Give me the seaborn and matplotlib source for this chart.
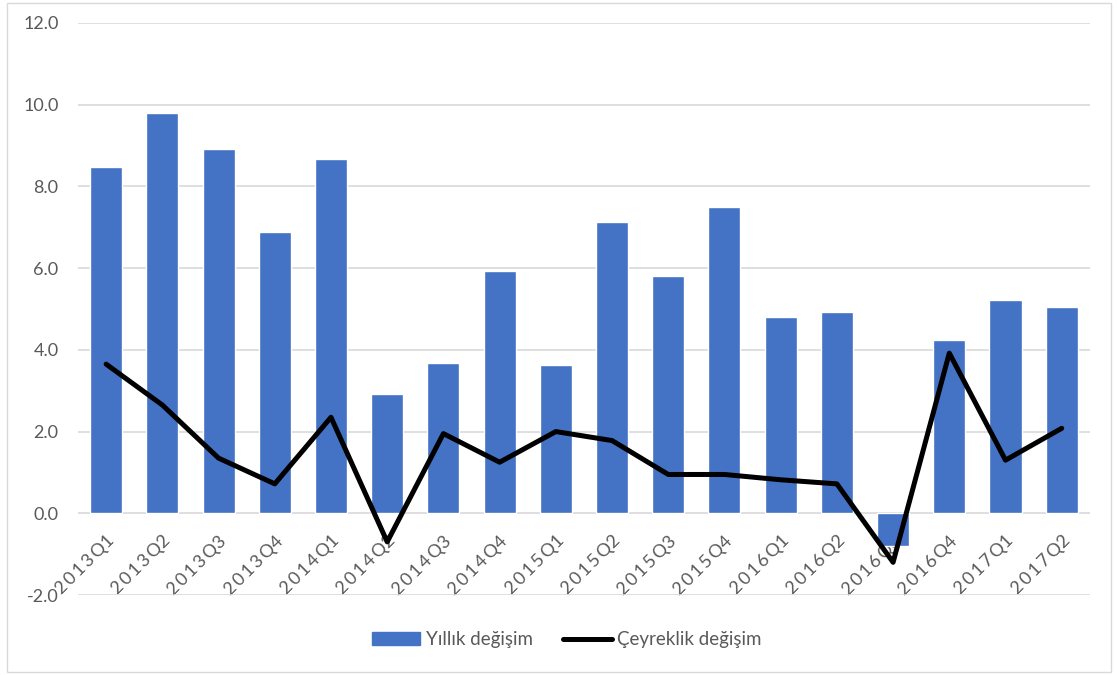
import pandas as pd
import seaborn as sns
import matplotlib.pyplot as plt
from matplotlib.patches import Rectangle
from matplotlib.lines import Line2D

quarters = [
    "2013Q1", "2013Q2", "2013Q3", "2013Q4",
    "2014Q1", "2014Q2", "2014Q3", "2014Q4",
    "2015Q1", "2015Q2", "2015Q3", "2015Q4",
    "2016Q1", "2016Q2", "2016Q3", "2016Q4",
    "2017Q1", "2017Q2",
]
yillik = [8.48, 9.79, 8.92, 6.88, 8.67, 2.92, 3.67, 5.92, 3.62,
          7.14, 5.80, 7.49, 4.80, 4.92, -0.80, 4.23, 5.23, 5.06]
ceyreklik = [3.65, 2.65, 1.35, 0.72, 2.35, -0.70, 1.95, 1.25, 2.00,
             1.78, 0.95, 0.95, 0.82, 0.72, -1.20, 3.92, 1.30, 2.08]
yticks = [-2.0, 0.0, 2.0, 4.0, 6.0, 8.0, 10.0, 12.0]

df = pd.DataFrame({"Ceyrek": quarters, "Yillik": yillik, "Ceyreklik": ceyreklik})

sns.set_style("white")
plt.rcParams["font.family"] = ["Lato", "DejaVu Sans"]

text_color = "#595959"
bar_color = "#4472C4"

fig = plt.figure(figsize=(11.18, 6.75), dpi=100)
ax = fig.add_axes([0.0698, 0.1185, 0.905, 0.8475])

sns.barplot(data=df, x="Ceyrek", y="Yillik", color=bar_color,
            width=0.57, saturation=1, ax=ax, zorder=2)
sns.lineplot(data=df, x="Ceyrek", y="Ceyreklik", color="black",
             linewidth=3.6, ax=ax, zorder=3, sort=False)

ax.set_ylim(-2, 12)
ax.set_xlim(-0.5, len(quarters) - 0.5)
ax.set_yticks(yticks)
ax.set_yticklabels([f"{v:.1f}" for v in yticks], color=text_color, fontsize=13)
ax.yaxis.grid(True, color="#d9d9d9", linewidth=1.2, zorder=0)
ax.set_axisbelow(True)
ax.set_xlabel("")
ax.set_ylabel("")
ax.tick_params(axis="both", length=0)
ax.tick_params(axis="y", pad=14)

# x labels hang from the zero line, spaced out like the original
ax.spines["bottom"].set_position(("data", 0))
for s in ["top", "right", "left", "bottom"]:
    ax.spines[s].set_visible(False)
ax.set_xticks(range(len(quarters)))
spaced = ["\u2009".join(q[:4]) + "\u2009" + q[4:] for q in quarters]
ax.set_xticklabels(spaced, rotation=45, ha="right", rotation_mode="anchor",
                   color=text_color, fontsize=13)
ax.tick_params(axis="x", pad=14)

handles = [
    Rectangle((0, 0), 1, 1, color=bar_color),
    Line2D([0], [0], color="black", linewidth=3.6),
]
leg = fig.legend(handles, ["Yıllık değişim", "Çeyreklik değişim"],
                 loc="center", bbox_to_anchor=(0.507, 0.052), ncol=2,
                 frameon=False, fontsize=13.5, handlelength=2.6,
                 columnspacing=1.6, handletextpad=0.3)
for t in leg.get_texts():
    t.set_color(text_color)

fig.patches.append(Rectangle((0.006, 0.005), 0.988, 0.99, transform=fig.transFigure,
                             fill=False, edgecolor="#d9d9d9", linewidth=1))

fig.savefig("out.png", dpi=100)
plt.close(fig)
